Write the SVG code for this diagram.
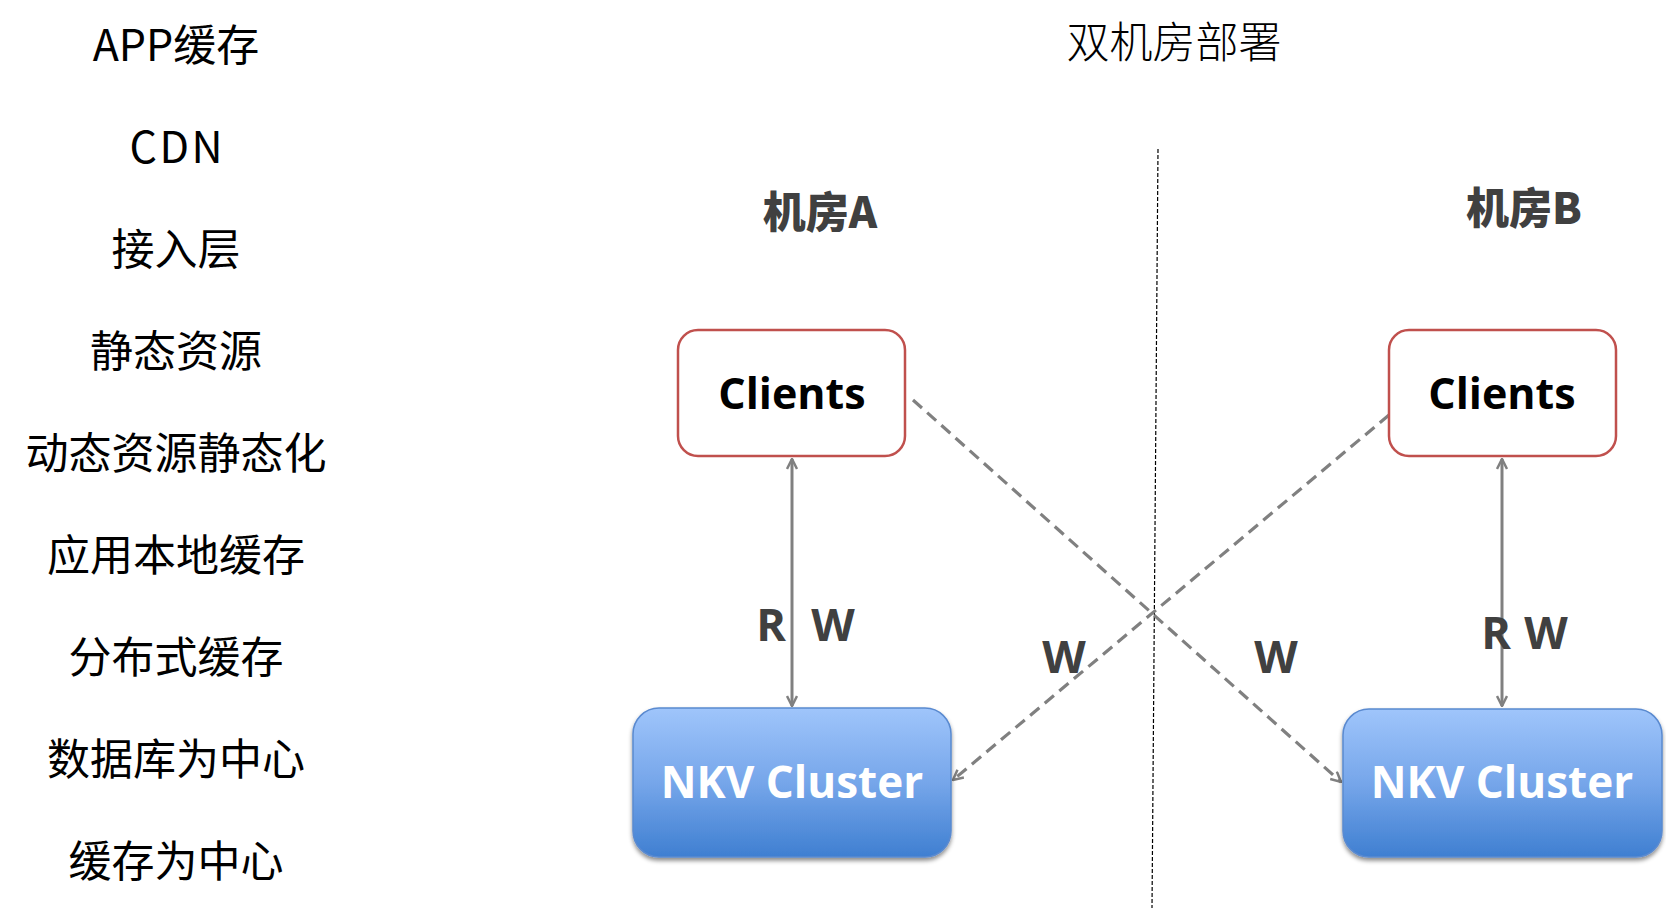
<svg xmlns="http://www.w3.org/2000/svg" width="1666" height="917" viewBox="0 0 1666 917">
<style>
.list{font-family:"Noto Sans CJK SC","Noto Sans",sans-serif;font-size:43px;fill:#000;text-anchor:middle}
.title{font-family:"Noto Sans CJK SC",sans-serif;font-size:43px;font-weight:300;fill:#000;text-anchor:middle}
.room{font-family:"Noto Sans CJK SC",sans-serif;font-size:43px;font-weight:900;fill:#404040;text-anchor:middle}
.lbl{font-family:"Open Sans","Noto Sans",sans-serif;font-size:45px;font-weight:700;fill:#404040;text-anchor:middle}
.cli{fill:#fff;stroke:#c0504d;stroke-width:2.5}
.clit{font-family:"Open Sans","Noto Sans",sans-serif;font-size:43px;font-weight:700;fill:#000;text-anchor:middle}
.nkv{fill:url(#blue);stroke:#5a8ad0;stroke-width:1.5;filter:url(#sh)}
.nkvt{font-family:"Open Sans","Noto Sans",sans-serif;font-size:44px;font-weight:700;fill:#fff;text-anchor:middle}
.solid{stroke:#808080;stroke-width:3;fill:none}
.dash{stroke:#808080;stroke-width:3.2;fill:none;stroke-dasharray:12 7}
.div{stroke:#000;stroke-width:1.2;stroke-dasharray:4 2;fill:none}
</style>
<defs>
<linearGradient id="blue" x1="0" y1="0" x2="0" y2="1">
<stop offset="0" stop-color="#9fc5fb"/>
<stop offset="0.5" stop-color="#76a6ea"/>
<stop offset="1" stop-color="#3f7fd1"/>
</linearGradient>
<filter id="sh" x="-10%" y="-10%" width="120%" height="130%">
<feDropShadow dx="0" dy="3" stdDeviation="2" flood-color="#000" flood-opacity="0.45"/>
</filter>
<marker id="ah" viewBox="0 0 12 12" refX="11" refY="6" markerWidth="12" markerHeight="12" markerUnits="userSpaceOnUse" orient="auto-start-reverse">
<path d="M1,1 L11,6 L1,11" fill="none" stroke="#808080" stroke-width="2.5"/>
</marker>
</defs>
<rect width="1666" height="917" fill="#fff"/>

<g id="list">
<text class="list" x="176" y="60.5">APP缓存</text>
<text class="list" x="176" y="162.6" textLength="93" lengthAdjust="spacing">CDN</text>
<text class="list" x="176" y="264.7">接入层</text>
<text class="list" x="176" y="366.8">静态资源</text>
<text class="list" x="176" y="468.9">动态资源静态化</text>
<text class="list" x="176" y="571">应用本地缓存</text>
<text class="list" x="176" y="673">分布式缓存</text>
<text class="list" x="176" y="775">数据库为中心</text>
<text class="list" x="176" y="877">缓存为中心</text>
</g>

<text id="title" class="title" x="1174" y="58">双机房部署</text>
<line id="divider" class="div" x1="1158" y1="149" x2="1152" y2="908"/>
<text id="roomA" class="room" x="820" y="228">机房A</text>
<text id="roomB" class="room" x="1524" y="224">机房B</text>

<g id="connectors">
<line class="solid" x1="792" y1="459" x2="792" y2="706" marker-start="url(#ah)" marker-end="url(#ah)"/>
<line class="solid" x1="1502" y1="459" x2="1502" y2="706" marker-start="url(#ah)" marker-end="url(#ah)"/>
<line class="dash" x1="913" y1="400" x2="1341" y2="782" marker-end="url(#ah)"/>
<line class="dash" x1="1389" y1="415" x2="953" y2="780" marker-end="url(#ah)"/>
<text class="lbl" x="771" y="641">R</text>
<text class="lbl" x="833" y="641">W</text>
<text class="lbl" x="1496" y="649">R</text>
<text class="lbl" x="1546" y="649">W</text>
<text class="lbl" x="1064" y="673">W</text>
<text class="lbl" x="1276" y="673">W</text>
</g>

<g id="clientsA">
<rect class="cli" x="678" y="330" width="227" height="126" rx="20"/>
<text class="clit" x="792" y="409">Clients</text>
</g>
<g id="clientsB">
<rect class="cli" x="1389" y="330" width="227" height="126" rx="20"/>
<text class="clit" x="1502" y="409">Clients</text>
</g>
<g id="nkvA">
<rect class="nkv" x="633" y="708" width="318" height="149" rx="26"/>
<text class="nkvt" x="792" y="798">NKV Cluster</text>
</g>
<g id="nkvB">
<rect class="nkv" x="1343" y="709" width="319" height="148" rx="26"/>
<text class="nkvt" x="1502" y="798">NKV Cluster</text>
</g>
</svg>
